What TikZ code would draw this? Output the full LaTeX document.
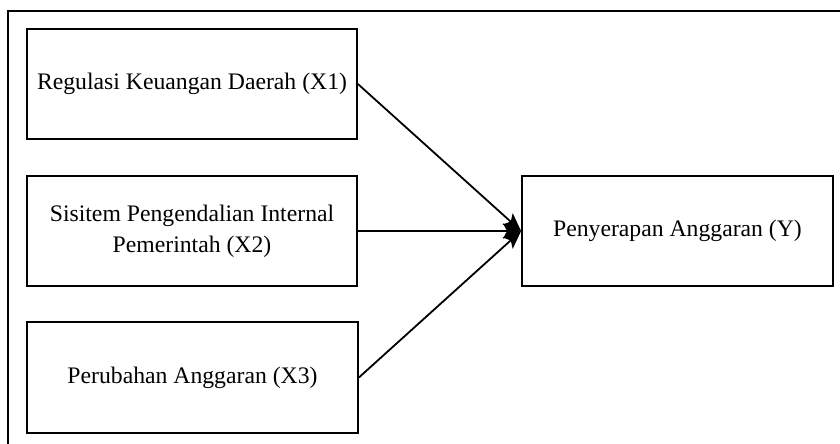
\documentclass[tikz,border=0pt]{standalone}
\usepackage{fontspec}
\setmainfont{Liberation Serif}
\usetikzlibrary{arrows.meta}
\begin{document}
\begin{tikzpicture}[x=1pt,y=-1pt,
  box/.style={draw=black, line width=1.8pt, minimum width=330pt, minimum height=110pt,
    inner sep=0pt, align=center, font=\fontsize{23.7}{31}\selectfont},
  link/.style={line width=1.8pt, -{Stealth[length=18pt,width=15pt,inset=4pt]}}]
\useasboundingbox (0,0) rectangle (840,444);
\draw[line width=1.8pt] (8,450) coordinate (fl) -- (8,11) coordinate (fc) -- (850,11) coordinate (fr);
\node[box] (x1) at (192,84) {Regulasi Keuangan Daerah (X1)};
\node[box] (x2) at (192,231) {Sisitem Pengendalian Internal\\Pemerintah (X2)};
\node[box, minimum height=111pt, minimum width=331pt] (x3) at (192.5,377.5) {Perubahan Anggaran (X3)};
\node[box, minimum width=311pt] (y) at (677.5,231) {Penyerapan Anggaran (Y)};
\draw[link] (x1.east) -- (y.west);
\draw[link] (x2.east) -- (y.west);
\draw[link] (x3.east) -- (y.west);
\end{tikzpicture}
\end{document}
